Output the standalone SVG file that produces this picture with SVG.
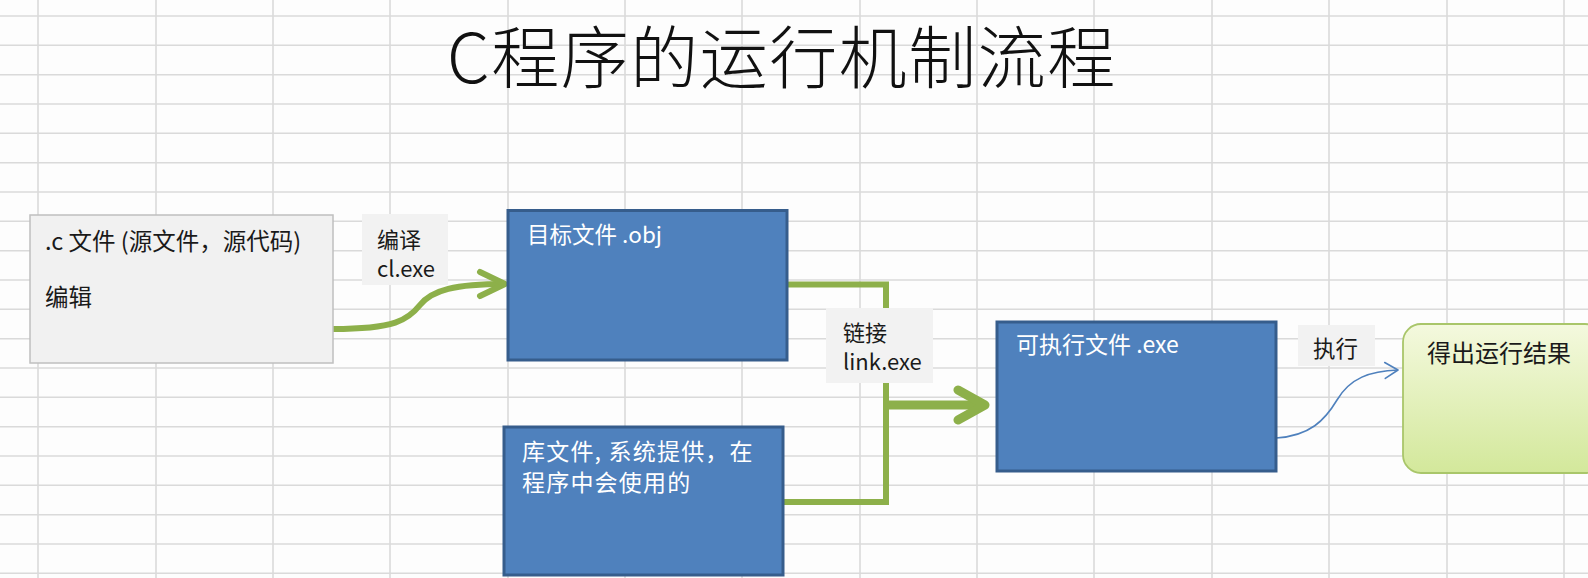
<svg xmlns="http://www.w3.org/2000/svg" width="1588" height="578" viewBox="0 0 1588 578">
<style>
  .grid{stroke:#dadada;stroke-width:1.6;fill:none}
  .t{font-family:"Noto Sans CJK SC","Noto Sans",sans-serif;}
  .dark{fill:#1a1a1a}
  .white{fill:#ffffff}
  .blue{fill:#4f81bd;stroke:#365d8c;stroke-width:3}
  .gray{fill:#f1f1f1;stroke:#bfbfbf;stroke-width:1.5}
  .lbl{fill:#f2f2f2}
  .g{fill:none;stroke:#8db04a;stroke-linejoin:miter}
</style>
<defs>
  <linearGradient id="gr" x1="0" y1="0" x2="0" y2="1">
    <stop offset="0" stop-color="#f4f9de"/>
    <stop offset="1" stop-color="#d3e89b"/>
  </linearGradient>
  <marker id="ag" markerUnits="userSpaceOnUse" viewBox="0 0 34 34" refX="30" refY="17" markerWidth="34" markerHeight="34" orient="auto">
    <path d="M5,5 L30,17 L5,29" fill="none" stroke="#8db04a" stroke-width="6" stroke-linecap="round" stroke-linejoin="round"/>
  </marker>
  <marker id="ag2" markerUnits="userSpaceOnUse" viewBox="0 0 40 40" refX="34" refY="20" markerWidth="40" markerHeight="40" orient="auto">
    <path d="M7,5 L34,20 L7,35" fill="none" stroke="#8db04a" stroke-width="9" stroke-linecap="round" stroke-linejoin="round"/>
  </marker>
  <marker id="ab" markerUnits="userSpaceOnUse" viewBox="0 0 20 20" refX="17" refY="10" markerWidth="20" markerHeight="20" orient="auto">
    <path d="M4,2 L17,10 L4,18" fill="none" stroke="#4f81bd" stroke-width="1.6" stroke-linecap="round" stroke-linejoin="round"/>
  </marker>
</defs>
<rect width="1588" height="578" fill="#fdfdfd"/>
<g id="grid" class="grid">
  <path d="M38,0V578M156,0V578M273,0V578M390,0V578M508,0V578M625,0V578M742,0V578M860,0V578M977,0V578M1094,0V578M1212,0V578M1329,0V578M1447,0V578M1564,0V578"/>
  <path d="M0,16H1588M0,45.3H1588M0,74.7H1588M0,104H1588M0,133.3H1588M0,162.7H1588M0,192H1588M0,221.3H1588M0,250.7H1588M0,280H1588M0,309.3H1588M0,338.7H1588M0,368H1588M0,397.3H1588M0,426.7H1588M0,456H1588M0,485.3H1588M0,514.7H1588M0,544H1588M0,573.3H1588"/>
</g>
<text id="title" class="t" x="447" y="83" font-size="68" font-weight="300" letter-spacing="1.5" fill="#111">C程序的运行机制流程</text>
<g id="connectors">
  <path class="g" stroke-width="6" d="M333,329 C395,329 408,320 420,305 C432,290 455,284 505,284" marker-end="url(#ag)"/>
  <path class="g" stroke-width="6" d="M787,284.5 H886 V405"/>
  <path class="g" stroke-width="6" d="M783,502 H886 V402"/>
  <path class="g" stroke-width="9" d="M883,405 H985" marker-end="url(#ag2)"/>
  <path d="M1276,438 C1310,436 1325,420 1337,400 C1350,378 1370,371 1398,370" fill="none" stroke="#4f81bd" stroke-width="1.6" marker-end="url(#ab)"/>
</g>
<g id="node-src">
  <rect class="gray" x="30" y="215" width="303" height="148"/>
  <text class="t dark" font-size="23.5"><tspan x="45" y="250">.c 文件 (源文件，源代码)</tspan><tspan x="45" y="306">编辑</tspan></text>
</g>
<g id="label-compile">
  <rect class="lbl" x="362" y="214" width="86" height="71"/>
  <text class="t dark" font-size="22"><tspan x="377" y="248">编译</tspan><tspan x="377" y="277">cl.exe</tspan></text>
</g>
<g id="node-obj">
  <rect class="blue" x="508" y="210.5" width="279" height="149.5"/>
  <text class="t white" x="527" y="243" font-size="22.5">目标文件 .obj</text>
</g>
<g id="node-lib">
  <rect class="blue" x="504" y="427" width="279" height="148"/>
  <text class="t white" font-size="23" letter-spacing="1.2"><tspan x="522" y="459.5">库文件, 系统提供，在</tspan><tspan x="522" y="490.5">程序中会使用的</tspan></text>
</g>
<g id="label-link">
  <rect class="lbl" x="826" y="308" width="107" height="75"/>
  <text class="t dark" font-size="22"><tspan x="843" y="341">链接</tspan><tspan x="843" y="370">link.exe</tspan></text>
</g>
<g id="node-exe">
  <rect class="blue" x="997" y="322" width="279" height="149"/>
  <text class="t white" x="1016" y="353" font-size="23">可执行文件 .exe</text>
</g>
<g id="label-run">
  <rect class="lbl" x="1298" y="325" width="77" height="41"/>
  <text class="t dark" x="1313" y="357" font-size="22.5">执行</text>
</g>
<g id="node-result">
  <rect x="1403" y="324" width="200" height="149" rx="18" ry="18" fill="url(#gr)" stroke="#a9c66a" stroke-width="1.8"/>
  <text class="t dark" x="1427" y="362" font-size="24">得出运行结果</text>
</g>
</svg>
